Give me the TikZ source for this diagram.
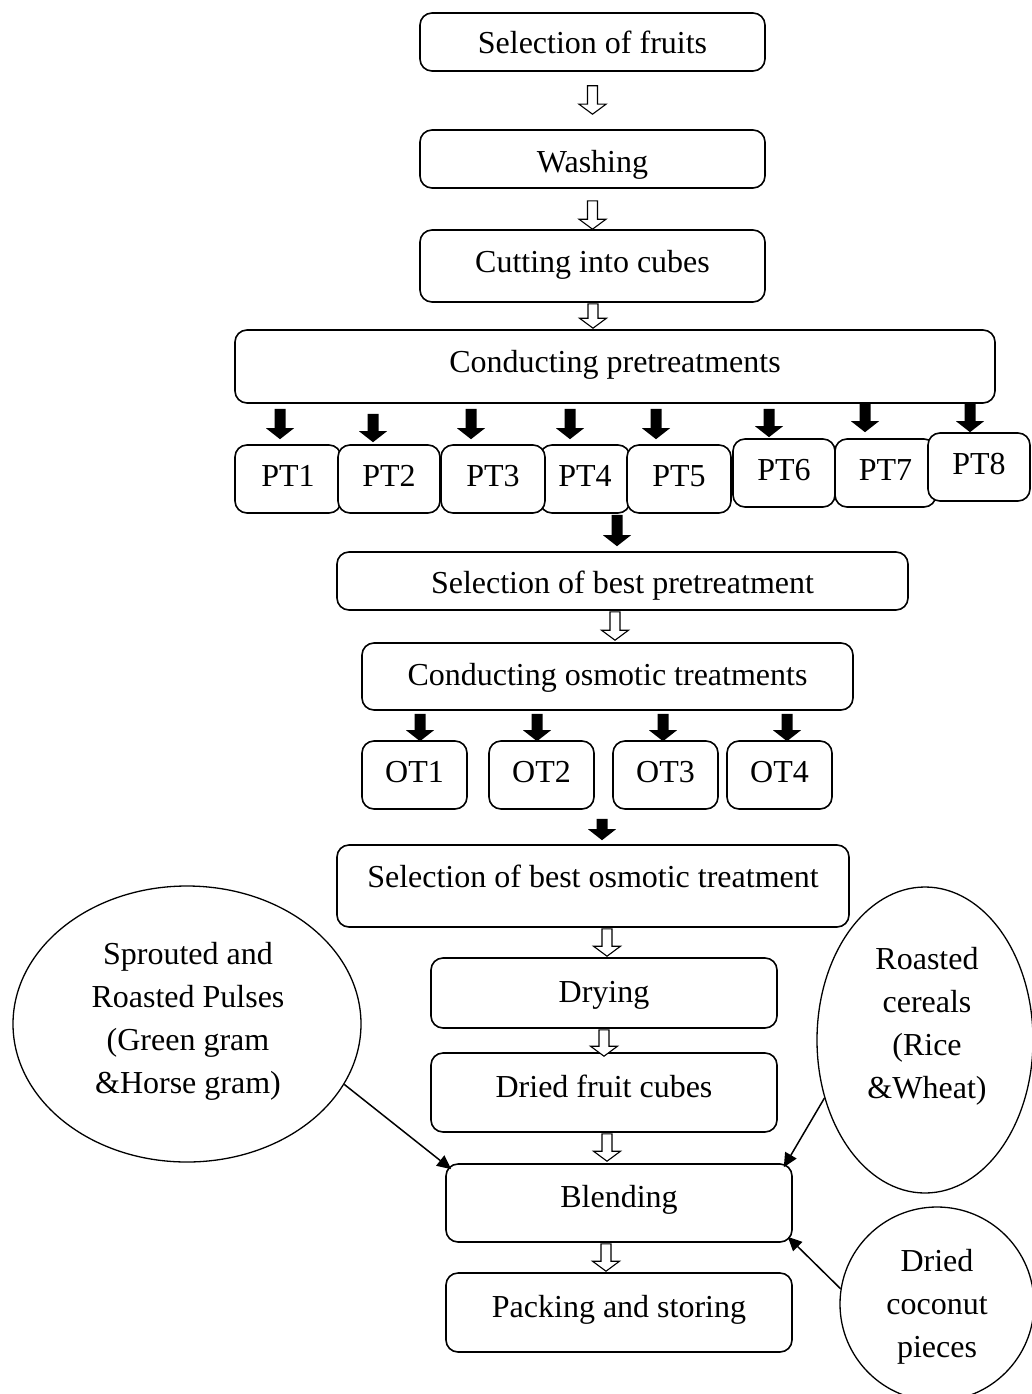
\documentclass[tikz,border=0pt]{standalone}
\usepackage{fontspec}
\setmainfont{Liberation Serif}
\usetikzlibrary{shapes.geometric,arrows.meta,calc}
\begin{document}
\begin{tikzpicture}[x=1pt,y=-1pt,
  every node/.style={font=\fontsize{32}{43}\selectfont},
  stepbox/.style={draw, rounded corners=12pt, line width=1.6pt, fill=white,
    inner sep=0pt, text height=22pt, text depth=7pt},
  bubble/.style={draw, ellipse, line width=1.3pt, inner sep=0pt},
  bubbletext/.style={align=center, inner sep=0pt},
  % open block arrow: x from the target, y from start and target
  hollowarrow/.style={draw=black, fill=white, line width=1.1pt, line join=miter,
    to path={let \p1=(\tikztostart), \p2=(\tikztotarget) in
      (\x2-5pt,\y1) -- (\x2+5pt,\y1) -- (\x2+5pt,\y2+10pt) -- (\x2+13.5pt,\y2+10pt)
      -- (\x2,\y2) -- (\x2-13.5pt,\y2+10pt) -- (\x2-5pt,\y2+10pt) -- cycle}},
  % solid block arrow
  blockarrow/.style={fill=black, draw=none,
    to path={let \p1=(\tikztostart), \p2=(\tikztotarget) in
      (\x2-5.5pt,\y1) -- (\x2+5.5pt,\y1) -- (\x2+5.5pt,\y2+11pt) -- (\x2+14pt,\y2+11pt)
      -- (\x2,\y2) -- (\x2-14pt,\y2+11pt) -- (\x2-5.5pt,\y2+11pt) -- cycle}},
  feed/.style={line width=1.5pt, -{Triangle[length=14pt,width=13pt]}},
]
\useasboundingbox (0,0) rectangle (1031,1394);

% main sequence
\node[stepbox, minimum width=345pt, minimum height=58pt, text height=31pt] (fruits) at (592.5,42) {Selection of fruits};
\node[stepbox, minimum width=345pt, minimum height=58pt, text height=33pt] (washing) at (592.5,159) {Washing};
\node[stepbox, minimum width=345pt, minimum height=72pt, text height=19pt] (cutting) at (592.5,266) {Cutting into cubes};
\node[stepbox, minimum width=760pt, minimum height=73pt, text height=18pt] (pretreat) at (615,366.5) {Conducting pretreatments};

% pretreatments
\begin{scope}[every node/.append style={minimum height=68pt, text height=26pt}]
\node[stepbox, minimum width=106pt] (PT1) at (288,479) {PT1};
\node[stepbox, minimum width=102pt] (PT2) at (389,479) {PT2};
\node[stepbox, minimum width=90pt] (PT4) at (585,479) {PT4};
\node[stepbox, minimum width=104pt] (PT3) at (493,479) {PT3};
\node[stepbox, minimum width=104pt] (PT5) at (679,479) {PT5};
\node[stepbox, minimum width=102pt] (PT6) at (784,473) {PT6};
\node[stepbox, minimum width=101pt] (PT7) at (885.5,473) {PT7};
\node[stepbox, minimum width=102pt] (PT8) at (979,467) {PT8};
\end{scope}

\node[stepbox, minimum width=571pt, minimum height=58pt, text height=32pt] (best) at (622.5,581) {Selection of best pretreatment};
\node[stepbox, minimum width=491pt, minimum height=67pt, text height=24pt] (osmotic) at (607.5,676.5) {Conducting osmotic treatments};

% osmotic treatments
\begin{scope}[every node/.append style={minimum width=105pt, minimum height=68pt, text height=28pt}]
\node[stepbox] (OT1) at (414.5,775) {OT1};
\node[stepbox] (OT2) at (541.5,775) {OT2};
\node[stepbox] (OT3) at (665.5,775) {OT3};
\node[stepbox] (OT4) at (779.5,775) {OT4};
\end{scope}

\node[stepbox, minimum width=512pt, minimum height=82pt, text depth=20pt] (bestosm) at (593,886) {Selection of best osmotic treatment};
\node[stepbox, minimum width=346pt, minimum height=70pt, text height=25pt] (drying) at (604,993) {Drying};
\node[stepbox, minimum width=346pt, minimum height=79pt, text height=16pt] (dried) at (604,1092.5) {Dried fruit cubes};
\node[stepbox, minimum width=346pt, minimum height=78pt, text height=15pt] (blend) at (619,1203) {Blending};
\node[stepbox, minimum width=346pt, minimum height=79pt, text height=16pt] (packing) at (619,1312.5) {Packing and storing};

% added ingredients
\node[bubble, minimum width=348pt, minimum height=276pt] (pulses) at (187,1024) {};
\node[bubbletext] (pulsestext) at (188,1021) {Sprouted and\\Roasted Pulses\\(Green gram\\\&Horse gram)};
\node[bubble, minimum width=216pt, minimum height=306pt] (cereal) at (925,1040) {};
\node[bubbletext] (cerealtext) at (927,1026) {Roasted\\cereals\\(Rice\\\&Wheat)};
\node[bubble, minimum width=194pt, minimum height=194pt] (coconut) at (937,1304) {};
\node[bubbletext] (coconuttext) at (937,1307) {Dried\\coconut\\pieces};

% open arrows
\draw[hollowarrow] ([yshift=-14pt]fruits.south) to ([yshift=15pt]washing.north);
\draw[hollowarrow] ([yshift=-12pt]washing.south) to ([yshift=0pt]cutting.north);
\draw[hollowarrow] ([yshift=-1pt]cutting.south) to ([xshift=-22pt,yshift=1pt]pretreat.north);
\draw[hollowarrow] ([yshift=-1pt]best.south) to ([xshift=7.5pt,yshift=2pt]osmotic.north);
\draw[hollowarrow] ([yshift=-1pt]bestosm.south) to ([xshift=3pt,yshift=1pt]drying.north);
\draw[hollowarrow] ([yshift=-1pt]drying.south) to ([yshift=-4pt]dried.north);
\draw[hollowarrow] ([yshift=-1pt]dried.south) to ([xshift=-12pt,yshift=2pt]blend.north);
\draw[hollowarrow] ([yshift=-1pt]blend.south) to ([xshift=-13pt,yshift=1pt]packing.north);

% solid arrows to the pretreatments
\draw[blockarrow] ([yshift=-5pt]pretreat.south) to ([xshift=-8pt,yshift=5pt]PT1.north);
\draw[blockarrow] ([yshift=-10pt]pretreat.south) to ([xshift=-16pt,yshift=2pt]PT2.north);
\draw[blockarrow] ([yshift=-5pt]pretreat.south) to ([xshift=-22pt,yshift=5pt]PT3.north);
\draw[blockarrow] ([yshift=-5pt]pretreat.south) to ([xshift=-15pt,yshift=5pt]PT4.north);
\draw[blockarrow] ([yshift=-5pt]pretreat.south) to ([xshift=-23pt,yshift=5pt]PT5.north);
\draw[blockarrow] ([yshift=-5pt]pretreat.south) to ([xshift=-15pt,yshift=1pt]PT6.north);
\draw[blockarrow] ([yshift=0pt]pretreat.south) to ([xshift=-20.5pt,yshift=6pt]PT7.north);
\draw[blockarrow] ([yshift=0pt]pretreat.south) to ([xshift=-9pt,yshift=0pt]PT8.north);
\draw[blockarrow] ([yshift=-1pt]PT4.south) to ([xshift=-5.5pt,yshift=5pt]best.north);

% solid arrows to the osmotic treatments
\draw[blockarrow] ([yshift=-3pt]osmotic.south) to ([xshift=5.5pt,yshift=-1pt]OT1.north);
\draw[blockarrow] ([yshift=-3pt]osmotic.south) to ([xshift=-4.5pt,yshift=-1pt]OT2.north);
\draw[blockarrow] ([yshift=-3pt]osmotic.south) to ([xshift=-2.5pt,yshift=-1pt]OT3.north);
\draw[blockarrow] ([yshift=-3pt]osmotic.south) to ([xshift=7.5pt,yshift=-1pt]OT4.north);
\draw[blockarrow] ([yshift=-9pt]OT2.south) to ([xshift=9pt,yshift=4pt]bestosm.north);

% ingredients into blending
\draw[feed] (pulses.-21) -- ([xshift=6pt,yshift=-6pt]blend.north west);
\draw[feed] (cereal.210) -- ([xshift=-9pt,yshift=-4pt]blend.north east);
\draw[feed] (coconut.171) -- ([xshift=-5pt,yshift=6pt]blend.south east);
\end{tikzpicture}
\end{document}
